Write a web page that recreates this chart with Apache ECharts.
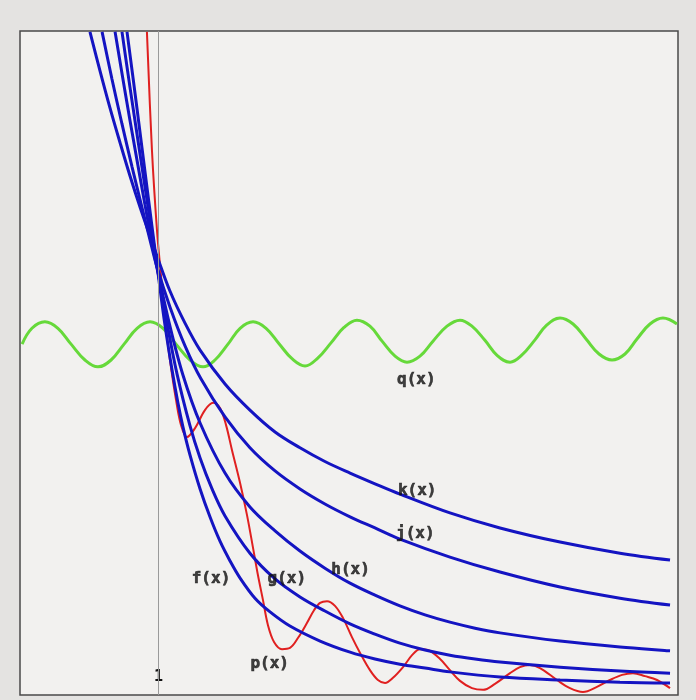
<!DOCTYPE html>
<html>
<head>
<meta charset="utf-8">
<script src="https://cdn.jsdelivr.net/npm/echarts@6/dist/echarts.min.js"></script>
<style>
  html, body { margin: 0; padding: 0; background: #e4e3e1; }
  #chart { width: 696px; height: 700px; }
</style>
</head>
<body>
<div id="chart"></div>
<script>
// ---- data ----
const kX = [0.604, 0.662, 0.720, 0.778, 0.835, 0.893, 0.951, 0.991, 1.066, 1.153, 1.240, 1.384, 1.528, 1.673, 1.817, 1.961, 2.106, 2.250, 2.394, 2.683, 2.972, 3.319, 3.665, 3.954];
const kY = [1.548, 1.457, 1.370, 1.289, 1.212, 1.139, 1.071, 1.025, 0.943, 0.868, 0.805, 0.726, 0.665, 0.614, 0.577, 0.545, 0.518, 0.493, 0.469, 0.425, 0.390, 0.357, 0.331, 0.315];

const jX = [0.674, 0.731, 0.789, 0.847, 0.905, 0.951, 0.991, 1.066, 1.153, 1.245, 1.384, 1.528, 1.673, 1.817, 1.961, 2.106, 2.250, 2.394, 2.683, 2.972, 3.319, 3.665, 3.954];
const jY = [1.548, 1.438, 1.333, 1.233, 1.137, 1.062, 0.999, 0.906, 0.815, 0.738, 0.649, 0.577, 0.523, 0.481, 0.446, 0.416, 0.390, 0.364, 0.322, 0.287, 0.252, 0.226, 0.210];

const hX = [0.749, 0.806, 0.864, 0.922, 0.957, 0.991, 1.066, 1.141, 1.240, 1.384, 1.528, 1.673, 1.817, 1.961, 2.106, 2.250, 2.394, 2.539, 2.683, 2.828, 2.972, 3.319, 3.665, 3.954];
const hY = [1.548, 1.410, 1.275, 1.144, 1.067, 0.997, 0.861, 0.747, 0.635, 0.518, 0.439, 0.383, 0.336, 0.296, 0.261, 0.233, 0.208, 0.187, 0.170, 0.156, 0.145, 0.126, 0.112, 0.103];

const gX = [0.789, 0.835, 0.893, 0.951, 0.991, 1.049, 1.107, 1.182, 1.240, 1.309, 1.384, 1.528, 1.673, 1.817, 1.961, 2.106, 2.250, 2.394, 2.539, 2.683, 2.828, 2.972, 3.319, 3.665, 3.954];
const gY = [1.548, 1.419, 1.263, 1.109, 1.004, 0.868, 0.749, 0.628, 0.553, 0.481, 0.418, 0.331, 0.271, 0.229, 0.196, 0.166, 0.142, 0.121, 0.105, 0.093, 0.084, 0.077, 0.065, 0.056, 0.051];

const fX = [0.818, 0.876, 0.933, 0.991, 1.037, 1.078, 1.112, 1.141, 1.182, 1.240, 1.297, 1.355, 1.413, 1.471, 1.557, 1.644, 1.759, 1.933, 2.106, 2.250, 2.394, 2.539, 2.683, 2.972, 3.319, 3.665, 3.954];
const fY = [1.548, 1.368, 1.186, 1.004, 0.864, 0.759, 0.682, 0.626, 0.560, 0.481, 0.416, 0.359, 0.313, 0.273, 0.226, 0.194, 0.161, 0.126, 0.100, 0.084, 0.072, 0.063, 0.054, 0.042, 0.035, 0.030, 0.028];

const pX = [0.933, 0.962, 0.991, 1.014, 1.037, 1.066, 1.101, 1.130, 1.164, 1.211,
            1.268, 1.315, 1.355, 1.390, 1.424, 1.471, 1.511, 1.546, 1.574, 1.603,
            1.632, 1.667, 1.713, 1.759, 1.805, 1.857, 1.898, 1.933, 1.973, 2.019,
            2.065, 2.117, 2.164, 2.221, 2.267, 2.308, 2.354, 2.412, 2.464, 2.510,
            2.556, 2.626, 2.683, 2.741, 2.810, 2.874, 2.943, 3.030, 3.087, 3.145,
            3.203, 3.301, 3.376, 3.451, 3.532, 3.607, 3.677, 3.740, 3.809, 3.879,
            3.954];
const pY = [1.548, 1.272, 1.085, 0.980, 0.875, 0.782, 0.689, 0.630, 0.602, 0.623,
            0.665, 0.682, 0.670, 0.630, 0.572, 0.495, 0.420, 0.343, 0.280, 0.222,
            0.163, 0.124, 0.107, 0.110, 0.133, 0.168, 0.198, 0.215, 0.219, 0.208,
            0.180, 0.135, 0.098, 0.058, 0.035, 0.028, 0.040, 0.065, 0.093, 0.107,
            0.105, 0.084, 0.058, 0.033, 0.016, 0.012, 0.026, 0.051, 0.065, 0.070,
            0.063, 0.035, 0.016, 0.007, 0.019, 0.035, 0.047, 0.051, 0.044, 0.035,
            0.016];

const qX = [0.212, 0.269, 0.344, 0.419, 0.495, 0.575, 0.650, 0.726, 0.801, 0.876,
            0.951, 1.026, 1.101, 1.182, 1.257, 1.326, 1.401, 1.471, 1.546, 1.621,
            1.696, 1.771, 1.846, 1.921, 1.996, 2.071, 2.146, 2.221, 2.291, 2.366,
            2.435, 2.510, 2.585, 2.666, 2.741, 2.810, 2.885, 2.955, 3.030, 3.099,
            3.174, 3.243, 3.319, 3.394, 3.469, 3.544, 3.619, 3.694, 3.763, 3.838,
            3.913, 3.994];
const qY = [0.819, 0.856, 0.871, 0.856, 0.819, 0.782, 0.766, 0.782, 0.819, 0.856,
            0.871, 0.856, 0.819, 0.782, 0.766, 0.782, 0.819, 0.856, 0.871, 0.856,
            0.820, 0.785, 0.768, 0.787, 0.822, 0.858, 0.875, 0.861, 0.826, 0.791,
            0.777, 0.791, 0.826, 0.861, 0.875, 0.861, 0.828, 0.793, 0.777, 0.794,
            0.829, 0.864, 0.880, 0.866, 0.831, 0.796, 0.782, 0.796, 0.831, 0.866,
            0.880, 0.866];

const labelNames = ['f(x)', 'g(x)', 'h(x)', 'j(x)', 'k(x)', 'q(x)', 'p(x)'];
const labelX = [1.303, 1.741, 2.109, 2.483, 2.494, 2.489, 1.642];
const labelY = [0.271, 0.271, 0.292, 0.376, 0.477, 0.735, 0.073];

const xTickLabels = [1];

// ---- build ----
const zip = (xs, ys) => xs.map((x, i) => [x, ys[i]]);
const BLUE = '#1414c2';
function blue(name, xs, ys) {
  return {
    name, type: 'line', data: zip(xs, ys), smooth: 0.35, showSymbol: false,
    lineStyle: { color: BLUE, width: 3 }, silent: true, z: 3
  };
}

const chart = echarts.init(document.getElementById('chart'), null, { renderer: 'canvas' });
chart.setOption({
  animation: false,
  backgroundColor: '#e4e3e1',
  grid: {
    left: 20, right: 18, top: 31, bottom: 5,
    show: true, backgroundColor: '#f2f1ef', borderColor: '#4a4a4a', borderWidth: 1.5
  },
  xAxis: {
    type: 'value', min: 0.2, max: 4.0, interval: 0.2,
    axisLine: { show: false }, axisTick: { show: false }, splitLine: { show: false },
    axisLabel: {
      inside: true, margin: 10, color: '#111', fontSize: 15, fontWeight: 'bold',
      fontFamily: 'DejaVu Sans Mono',
      formatter: v => xTickLabels.some(t => Math.abs(t - v) < 1e-6) ? String(Math.round(v)) : ''
    }
  },
  yAxis: {
    type: 'value', min: 0, max: 1.55, show: false, splitLine: { show: false }
  },
  series: [
    {
      name: 'q', type: 'line', data: zip(qX, qY), smooth: 0.4, showSymbol: false,
      lineStyle: { color: '#66d93a', width: 3 }, silent: true, z: 1,
      markLine: {
        silent: true, symbol: 'none', label: { show: false },
        lineStyle: { color: '#9a9a9a', width: 1, type: 'solid' },
        data: [{ xAxis: 1 }]
      }
    },
    {
      name: 'p', type: 'line', data: zip(pX, pY), smooth: 0.35, showSymbol: false,
      lineStyle: { color: '#e02020', width: 2 }, silent: true, z: 2
    },
    blue('k', kX, kY),
    blue('j', jX, jY),
    blue('h', hX, hY),
    blue('g', gX, gY),
    blue('f', fX, fY),
    {
      name: 'labels', type: 'scatter', symbolSize: 0, silent: true, z: 6,
      data: labelNames.map((n, i) => ({ name: n, value: [labelX[i], labelY[i]] })),
      label: {
        show: true, position: 'inside', formatter: '{b}',
        color: '#111', fontSize: 16, fontWeight: 'bold', fontFamily: 'DejaVu Sans Mono',
        textBorderColor: '#111', textBorderWidth: 0.6
      }
    }
  ]
});
</script>
</body>
</html>
